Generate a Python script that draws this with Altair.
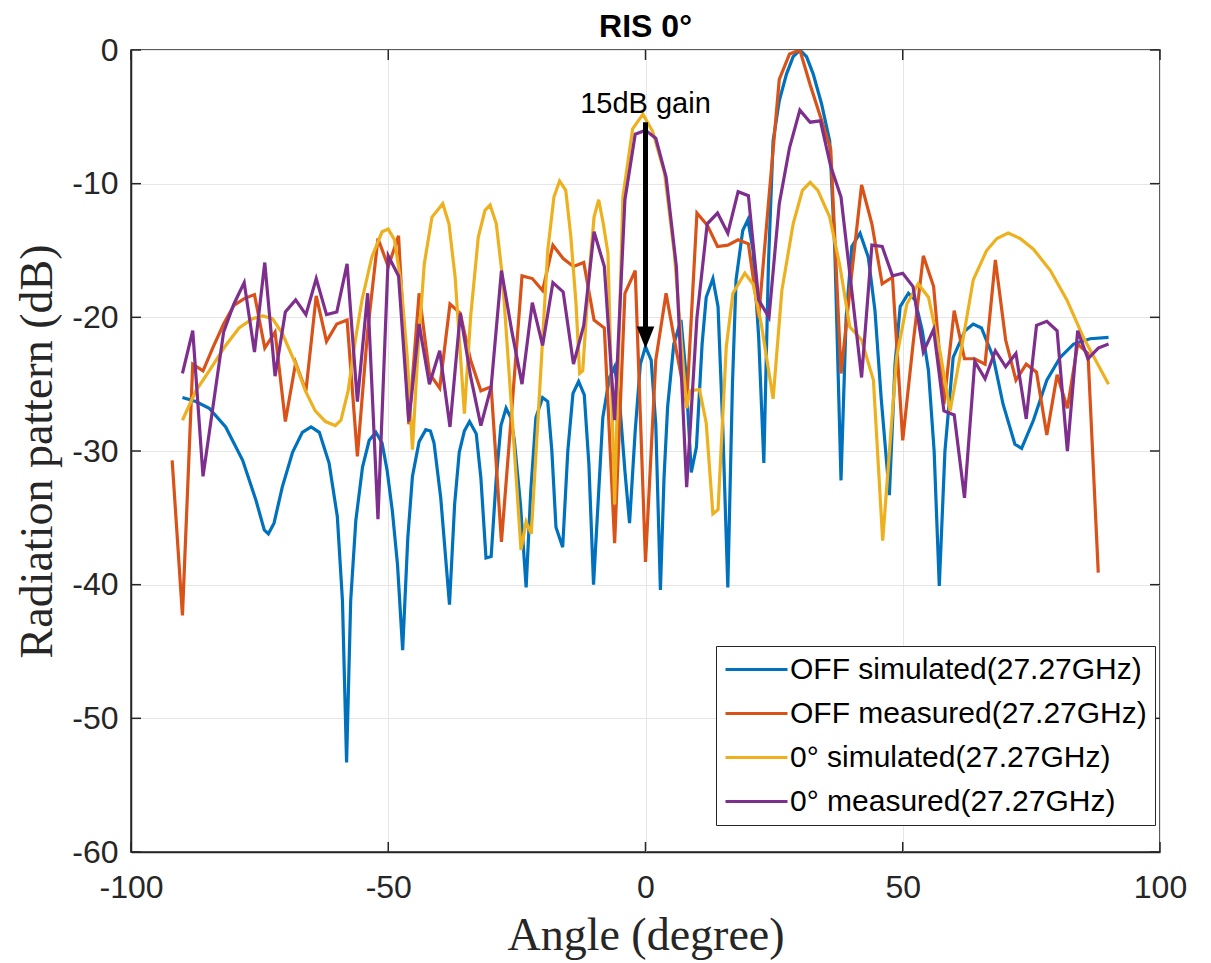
import altair as alt
import pandas as pd

# ---------------- data ----------------
SERIES = ["OFF simulated(27.27GHz)", "OFF measured(27.27GHz)",
          "0° simulated(27.27GHz)", "0° measured(27.27GHz)"]
COLORS = ["#0072BD", "#D95319", "#EDB120", "#7E2F8E"]

TITLE = ["RIS 0°"]
X_TICKS = [-100, -50, 0, 50, 100]
Y_TICKS = [-60, -50, -40, -30, -20, -10, 0]

off_sim_angle = [-90, -87.4, -84.8, -81.6, -78.3, -75.7, -74.1, -73.3, -72.2, -70.6,
                 -68.6, -66.7, -65.0, -63.4, -61.5, -59.9, -58.9, -58.1, -57.3, -56.3,
                 -55.0, -53.7, -52.4, -51.2, -50.2, -49.2, -48.2, -47.2, -46.2, -45.3,
                 -44.0, -42.7, -41.8, -41.1, -39.8, -38.1, -37.1, -36.2, -35.2, -34.2,
                 -32.9, -32.0, -31.0, -30.0, -29.0, -28.1, -27.1, -26.2, -25.5, -24.3,
                 -23.2, -22.3, -21.3, -20.0, -19.0, -18.2, -17.4, -16.1, -15.1, -14.1,
                 -13.0, -11.9, -11.0, -10.1, -8.3, -7.0, -6.0, -5.0, -4.0, -3.1,
                 -2.0, -1.0, 0.0, 1.1, 2.0, 2.9, 3.6, 4.3, 5.5, 6.9,
                 7.8, 8.9, 9.9, 11.0, 11.8, 13.1, 14.1, 15.0, 16.0, 16.9,
                 17.6, 18.9, 19.9, 20.9, 22.0, 23.0, 23.9, 24.8, 26.0, 27.4,
                 28.7, 30.0, 31.3, 32.6, 34.2, 35.8, 36.8, 38.0, 39.0, 40.1,
                 41.7, 43.3, 44.6, 45.8, 47.4, 48.5, 49.5, 51.1, 52.4, 53.8,
                 55.0, 56.1, 57.1, 58.2, 59.8, 62.1, 63.7, 65.3, 67.6, 69.5,
                 71.8, 73.1, 75.4, 78.0, 80.6, 83.2, 86.4, 90.0]
off_sim_db = [-26.0, -26.3, -26.8, -28.2, -30.7, -33.7, -35.9, -36.2, -35.4, -32.7,
              -30.1, -28.6, -28.2, -28.6, -30.9, -34.9, -41.2, -53.3, -41.2, -35.2,
              -31.2, -29.2, -28.6, -29.4, -31.5, -34.5, -38.5, -44.9, -36.5, -31.9,
              -29.3, -28.4, -28.5, -29.4, -33.5, -41.5, -34.0, -30.1, -28.5, -27.8,
              -28.7, -32.0, -38.0, -37.9, -32.0, -28.1, -26.8, -27.5, -29.2, -34.0,
              -40.2, -33.0, -27.5, -26.0, -26.3, -30.0, -35.7, -37.2, -30.0, -25.7,
              -24.8, -25.8, -31.0, -40.0, -27.5, -24.5, -23.7, -26.5, -31.5, -35.4,
              -28.5, -23.5, -22.2, -23.2, -28.0, -40.4, -32.0, -26.7, -22.0, -20.2,
              -24.0, -31.6, -29.7, -22.0, -18.5, -17.1, -19.2, -28.0, -40.2, -25.0,
              -17.2, -13.5, -12.7, -15.0, -21.5, -30.9, -16.0, -6.8, -3.8, -1.8,
              -0.5, 0.0, -0.5, -1.8, -4.0, -6.8, -15.0, -32.2, -20.0, -14.7,
              -13.7, -15.5, -19.5, -26.0, -33.3, -23.5, -19.2, -18.2, -18.7, -21.0,
              -24.0, -30.0, -40.1, -30.0, -23.0, -21.0, -20.5, -20.8, -23.0, -26.5,
              -29.5, -29.8, -27.7, -24.7, -23.0, -22.0, -21.6, -21.5]

off_meas_angle = list(range(-92, 89, 2))
off_meas_db = [-30.7, -42.3, -23.5, -24.0, -22.2, -20.5, -19.1, -18.6, -18.3, -22.3,
               -21.1, -27.8, -23.4, -25.5, -18.4, -21.8, -20.5, -20.2, -30.4, -21.0,
               -14.1, -16.2, -13.9, -28.0, -18.2, -24.2, -25.3, -19.0, -19.7, -23.2,
               -25.5, -25.2, -36.8, -27.0, -16.9, -17.1, -18.0, -14.6, -15.6, -16.2,
               -15.9, -20.2, -20.8, -36.9, -18.2, -16.5, -38.3, -23.2, -18.2, -22.5,
               -26.5, -12.2, -13.1, -14.7, -14.6, -14.2, -14.5, -20.0, -11.0, -2.2,
               -0.3, 0.0, -2.6, -5.0, -7.4, -24.2, -17.0, -10.1, -13.0, -17.5,
               -17.0, -29.2, -22.0, -15.4, -17.7, -26.5, -19.5, -23.1, -23.1, -23.5,
               -15.7, -21.7, -24.7, -23.5, -24.1, -28.8, -24.3, -26.8, -22.0, -22.7,
               -39.1]

on_sim_angle = [-90, -87.4, -84.8, -81.6, -79.0, -76.4, -74.4, -72.5, -70.6, -68.0,
                -66.1, -64.2, -62.2, -60.3, -59.2, -57.8, -56.4, -55.1, -53.2, -51.2,
                -50.0, -48.8, -47.5, -46.3, -45.3, -44.3, -43.0, -41.5, -39.4, -38.2,
                -37.0, -35.2, -34.0, -32.5, -31.2, -30.2, -29.0, -27.8, -26.0, -24.2,
                -23.2, -22.2, -20.5, -19.0, -17.8, -16.7, -15.5, -14.5, -13.5, -12.8,
                -12.2, -11.0, -10.0, -9.1, -8.2, -7.3, -6.0, -4.4, -2.5, -0.5,
                1.4, 3.7, 5.6, 8.0, 8.6, 10.5, 11.8, 13.1, 14.1, 15.7,
                17.0, 19.3, 20.9, 22.5, 24.8, 26.5, 28.7, 30.5, 32.0, 33.5,
                35.8, 37.8, 39.7, 42.0, 44.3, 46.1, 48.8, 50.8, 53.0, 55.0,
                57.3, 59.2, 61.1, 63.7, 66.3, 68.3, 70.5, 72.8, 75.4, 78.7,
                81.9, 85.1, 90.0]
on_sim_db = [-27.7, -25.5, -24.0, -22.1, -20.8, -20.1, -19.9, -20.1, -21.2, -23.5,
             -25.5, -27.0, -27.8, -28.1, -27.7, -25.5, -21.7, -18.7, -15.5, -13.6,
             -13.4, -14.2, -17.5, -23.0, -29.9, -23.0, -16.0, -12.5, -11.5, -13.0,
             -17.0, -27.2, -20.0, -14.0, -12.0, -11.6, -13.0, -17.0, -27.0, -37.4,
             -35.3, -36.2, -25.0, -15.0, -11.0, -9.8, -10.5, -14.0, -19.0, -24.2,
             -24.0, -17.0, -12.5, -11.2, -13.0, -15.2, -34.0, -11.0, -5.9, -4.8,
             -6.1, -9.2, -15.2, -26.8, -25.5, -25.4, -27.9, -34.7, -34.4, -22.2,
             -18.2, -16.7, -17.5, -20.5, -26.1, -18.0, -13.0, -10.5, -9.9, -10.5,
             -12.5, -16.2, -20.7, -21.7, -24.7, -36.7, -23.0, -19.0, -17.5, -18.5,
             -22.7, -27.0, -23.0, -17.2, -15.0, -14.1, -13.7, -14.1, -14.9, -16.5,
             -18.7, -21.5, -25.0]

on_meas_angle = list(range(-90, 91, 2))
on_meas_db = [-24.2, -21.0, -31.9, -26.5, -21.1, -19.0, -17.4, -22.6, -15.9, -24.4,
              -19.6, -18.7, -19.8, -17.1, -19.8, -19.6, -16.0, -26.3, -18.2, -35.1,
              -15.4, -16.9, -27.8, -20.5, -25.0, -22.5, -28.2, -19.7, -24.4, -28.1,
              -25.2, -16.5, -21.0, -25.0, -18.9, -22.1, -17.4, -18.1, -23.5, -20.6,
              -13.6, -16.2, -27.7, -11.2, -6.3, -6.0, -6.6, -9.5, -16.2, -32.7,
              -20.0, -13.0, -12.2, -13.7, -10.6, -10.9, -18.7, -20.0, -11.5, -7.3,
              -4.5, -5.4, -5.3, -8.7, -11.0, -17.7, -24.5, -14.6, -14.7, -16.9,
              -16.7, -17.7, -22.6, -20.9, -27.0, -27.3, -33.5, -23.3, -24.6, -22.5,
              -23.7, -22.7, -27.6, -20.6, -20.3, -21.0, -30.0, -21.0, -23.1, -22.3,
              -22.0]

# annotation (arrow "15dB gain")
ann_angle = [0]
ann_text_db = [-4.7]
arrow_top_db = [-5.4]
arrow_end_db = [-20.8]
arrow_head_db = [-21.5]
ann_text = ["15dB gain"]

# ---------------- chart ----------------
W, H = 1029, 802
AX = "#262626"

x_scale = alt.Scale(domain=[-100, 100], nice=False, zero=False)
y_scale = alt.Scale(domain=[-60, 0], nice=False, zero=False)
color_scale = alt.Scale(domain=SERIES, range=COLORS)

x_axis = alt.Axis(values=X_TICKS, title="Angle (degree)", labelExpr="datum.value + ''",
                  labelPadding=20, labelFlush=False, titleX=W / 2, titleY=97,
                  titleBaseline="alphabetic", titleAlign="center")
y_axis = alt.Axis(values=Y_TICKS, title="Radiation pattern (dB)", labelExpr="datum.value + ''",
                  labelPadding=13, labelFlush=False, titleX=-80, titleY=H / 2,
                  titleBaseline="alphabetic", titleAlign="center", titleAngle=270)

legend = alt.Legend(title=None, orient="none", legendX=585, legendY=596,
                    symbolType="stroke", symbolSize=3844, symbolStrokeWidth=3,
                    labelFontSize=30, labelFont="Liberation Sans", labelColor="black",
                    strokeColor=AX, fillColor="white", padding=8, rowPadding=13,
                    labelOffset=1, clipHeight=31, labelLimit=0)

X = alt.X("angle:Q", scale=x_scale, axis=x_axis)
Y = alt.Y("db:Q", scale=y_scale, axis=y_axis)
C = alt.Color("series:N", scale=color_scale, legend=legend)

series_data = [(off_sim_angle, off_sim_db), (off_meas_angle, off_meas_db),
               (on_sim_angle, on_sim_db), (on_meas_angle, on_meas_db)]

layers = []
for name, (a, d) in zip(SERIES, series_data):
    df = pd.DataFrame({"angle": a, "db": d, "series": name})
    layers.append(alt.Chart(df).mark_line(strokeWidth=3.2, clip=True).encode(x=X, y=Y, color=C))

xt = pd.DataFrame({"angle": X_TICKS})
yt = pd.DataFrame({"db": Y_TICKS})
tick_style = dict(color=AX, strokeWidth=1.5)
layers += [
    alt.Chart(xt).mark_rule(**tick_style).encode(x=X, y=alt.value(H - 10), y2=alt.value(H)),
    alt.Chart(xt).mark_rule(**tick_style).encode(x=X, y=alt.value(0), y2=alt.value(10)),
    alt.Chart(yt).mark_rule(**tick_style).encode(y=Y, x=alt.value(0), x2=alt.value(10)),
    alt.Chart(yt).mark_rule(**tick_style).encode(y=Y, x=alt.value(W - 10), x2=alt.value(W)),
]

ann = pd.DataFrame({"angle": ann_angle, "db": ann_text_db, "top": arrow_top_db,
                    "end": arrow_end_db, "head": arrow_head_db, "label": ann_text})
layers += [
    alt.Chart(ann).mark_rule(color="black", strokeWidth=5).encode(
        x=X, y=alt.Y("top:Q", scale=y_scale, axis=y_axis), y2="end:Q"),
    alt.Chart(ann).mark_point(shape="M-0.8,-1L0.8,-1L0,1Z", size=484, filled=True,
                              color="black", opacity=1).encode(
        x=X, y=alt.Y("head:Q", scale=y_scale, axis=y_axis)),
    alt.Chart(ann).mark_text(fontSize=29, font="Liberation Sans", color="black",
                             baseline="alphabetic", align="center").encode(
        x=X, y=Y, text="label:N"),
]

title_df = pd.DataFrame({"title": TITLE})
layers.append(
    alt.Chart(title_df).mark_text(fontSize=32, font="Liberation Sans", fontWeight="bold",
                                  color="black", baseline="alphabetic", align="center").encode(
        x=alt.value(W / 2), y=alt.value(-13), text="title:N")
)

chart = alt.layer(*layers).properties(
    width=W, height=H,
    autosize=alt.AutoSizeParams(type="none"),
    padding={"left": 123, "top": 42, "right": 30, "bottom": 108},
).configure_view(
    stroke=AX, strokeWidth=1.5
).configure_axis(
    grid=True, gridColor="#e6e6e6", gridWidth=1,
    domainColor=AX, domainWidth=1.5,
    labelColor=AX, labelFont="Liberation Sans", labelFontSize=32,
    titleFont="Liberation Serif", titleFontSize=46, titleFontWeight="normal",
    titleColor=AX, ticks=False, tickSize=0,
)

chart.save("out.html", embed_options={"renderer": "svg", "actions": False})
